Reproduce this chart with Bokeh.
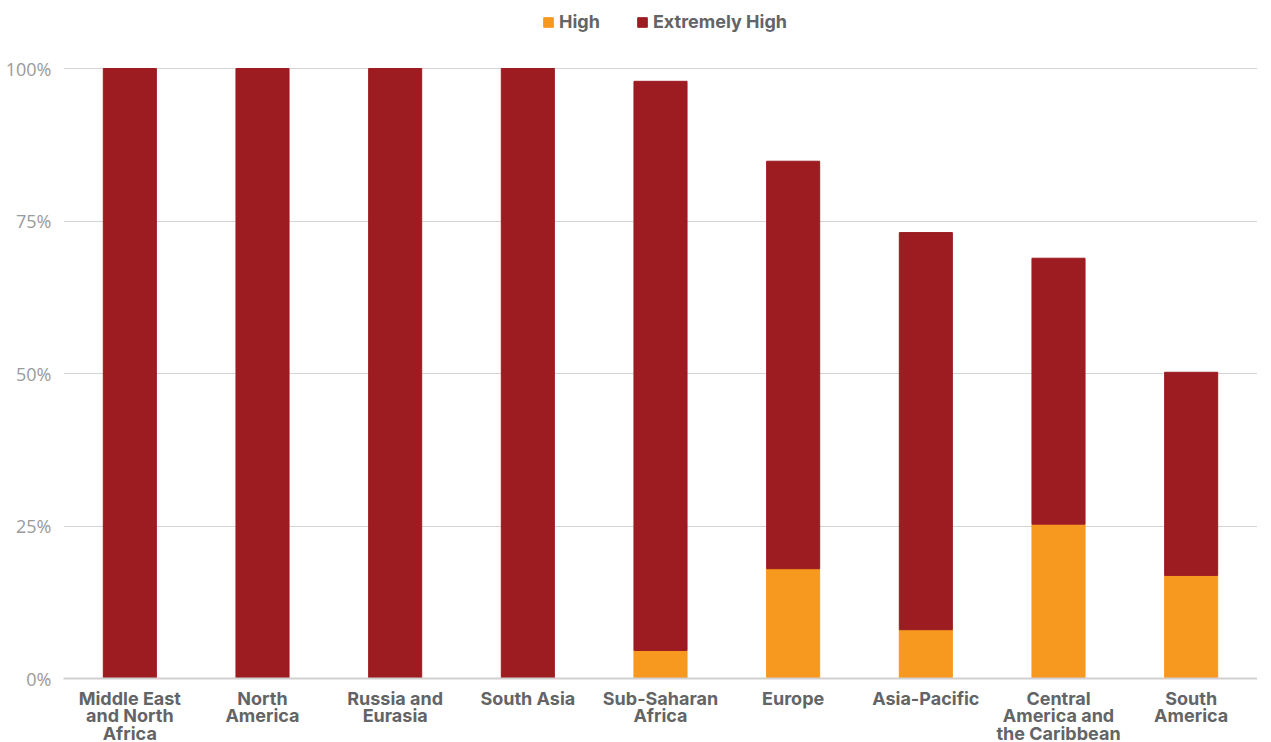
from bokeh.plotting import figure
from bokeh.models import ColumnDataSource, Legend, LegendItem, NumeralTickFormatter, FixedTicker, Range1d
from bokeh.embed import file_html
from bokeh.resources import INLINE

regions = ["Middle East\nand North\nAfrica", "North\nAmerica", "Russia and\nEurasia", "South Asia",
           "Sub-Saharan\nAfrica", "Europe", "Asia-Pacific", "Central\nAmerica and\nthe Caribbean", "South\nAmerica"]
high = [0.0, 0.0, 0.0, 0.0, 4.6, 18.0, 8.0, 25.3, 16.9]
total = [100.0, 100.0, 100.0, 100.0, 97.9, 84.8, 73.1, 68.9, 50.2]
extremely_high = [round(t - h, 1) for t, h in zip(total, high)]
series = ["High", "Extremely High"]
colors = ["#F7981F", "#9C1C21"]
y_ticks = [0, 25, 50, 75, 100]

src = ColumnDataSource(dict(region=regions, high=[v / 100 for v in high],
                            extreme=[v / 100 for v in extremely_high]))

# frame extends above 100% to host the legend (100% line sits 60px below frame top)
p = figure(x_range=regions, y_range=Range1d(0, 670 / 610), frame_width=1194, frame_height=670,
           output_backend="svg", toolbar_location=None,
           min_border_left=63, min_border_right=0, min_border_top=8, min_border_bottom=40)
r = p.vbar_stack(["high", "extreme"], x="region", width=0.4, color=colors, source=src)

p.outline_line_color = None
p.xgrid.grid_line_color = None
p.ygrid.grid_line_color = "#d4d4d4"
p.ygrid.grid_line_width = 1
p.yaxis.ticker = FixedTicker(ticks=[t / 100 for t in y_ticks])
p.yaxis.formatter = NumeralTickFormatter(format="0%")
p.yaxis.axis_line_color = None
p.yaxis.major_tick_line_color = None
p.yaxis.minor_tick_line_color = None
p.yaxis.major_label_text_font = "Open Sans"
p.yaxis.major_label_text_font_size = "18px"
p.yaxis.major_label_text_color = "#9a9a9a"
p.yaxis.major_label_standoff = 6

p.xaxis.axis_line_color = "#d0d0d0"
p.xaxis.axis_line_width = 2
p.xaxis.major_tick_line_color = None
p.xaxis.minor_tick_line_color = None
p.xaxis.major_label_text_font = "Inter"
p.xaxis.major_label_text_font_style = "bold"
p.xaxis.major_label_text_font_size = "18px"
p.xaxis.major_label_text_color = "#636466"
p.xaxis.major_label_text_line_height = 0.85
p.xaxis.major_label_standoff = 3
p.x_range.range_padding = 0.0

legend = Legend(items=[LegendItem(label=series[0], renderers=[r[0]]),
                       LegendItem(label=series[1], renderers=[r[1]])],
                orientation="horizontal", location=(479, 646),
                label_text_font="Inter", label_text_font_style="bold",
                label_text_font_size="18px", label_text_color="#636466",
                glyph_width=12, glyph_height=12, spacing=36, border_line_color=None,
                background_fill_alpha=0, margin=0, padding=2)
p.add_layout(legend, "center")

open("out.html", "w").write(file_html(p, INLINE))
